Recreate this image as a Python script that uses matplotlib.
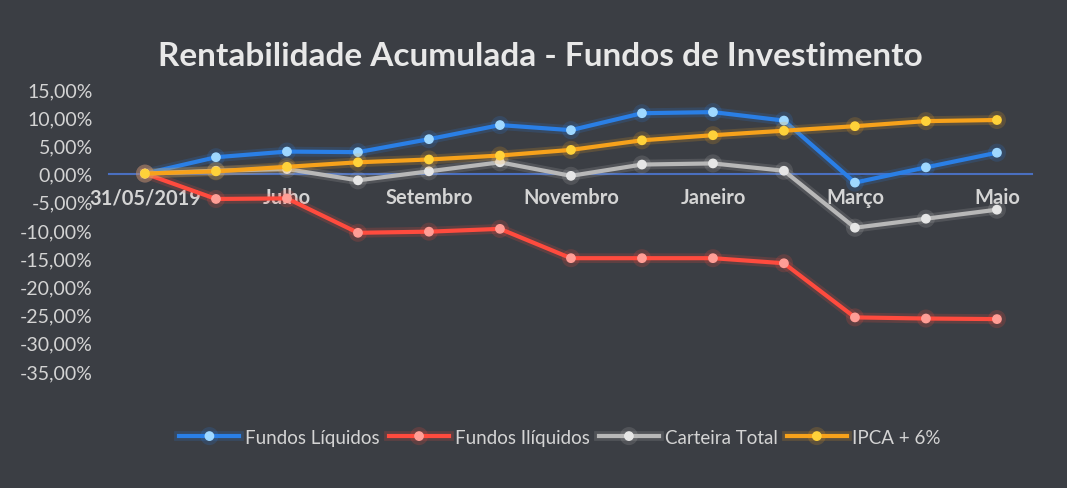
import matplotlib.pyplot as plt
import matplotlib.patheffects as pe
from matplotlib.ticker import FuncFormatter

plt.rcParams['font.family'] = ['Lato', 'DejaVu Sans']

# monthly points from 31/05/2019 to May 2020
categorias = ['31/05/2019', 'Junho', 'Julho', 'Agosto', 'Setembro', 'Outubro', 'Novembro',
              'Dezembro', 'Janeiro', 'Fevereiro', 'Março', 'Abril', 'Maio']
fundos_liquidos = [0.0, 2.9, 3.9, 3.8, 6.1, 8.6, 7.7, 10.7, 10.9, 9.4, -1.6, 1.1, 3.7]
fundos_iliquidos = [0.0, -4.5, -4.4, -10.5, -10.3, -9.8, -15.0, -15.0, -15.0, -15.9, -25.5, -25.7, -25.8]
carteira_total = [0.0, 0.5, 0.8, -1.2, 0.4, 2.0, -0.4, 1.6, 1.8, 0.5, -9.6, -8.0, -6.4]
ipca_6 = [0.0, 0.4, 1.2, 2.0, 2.5, 3.2, 4.2, 5.9, 6.8, 7.6, 8.4, 9.3, 9.5]

bg = '#3b3e44'
txt = '#d4d4d4'

fig = plt.figure(figsize=(10.67, 4.89), dpi=100, facecolor=bg)
ax = fig.add_axes([0.1026, 0.2393, 0.865, 0.5767], facecolor=bg)

series = [
    (fundos_liquidos, 'Fundos Líquidos', '#2a7fe6', '#9fd8ff'),
    (fundos_iliquidos, 'Fundos Ilíquidos', '#ff4b3e', '#ff9e96'),
    (carteira_total, 'Carteira Total', '#b8b8b8', '#e6e6e6'),
    (ipca_6, 'IPCA + 6%', '#f7a21b', '#ffd23a'),
]

x = range(len(categorias))
for vals, nome, cor, cor_m in series:
    ax.plot(x, vals, color=cor, lw=3, marker='o', ms=6, mfc=cor_m, mec=cor_m,
            label=nome, zorder=3,
            path_effects=[pe.Stroke(linewidth=7, foreground=cor, alpha=0.18), pe.Normal()])

ax.set_xlim(-0.5, 12.5)
ax.set_ylim(-35, 15)
ax.set_yticks(range(-35, 16, 5))
ax.yaxis.set_major_formatter(FuncFormatter(lambda v, p: f'{v:.2f}%'.replace('.', ',')))

ax.set_xticks(list(x)[::2])
ax.set_xticklabels(categorias[::2])

for s in ['top', 'right', 'left']:
    ax.spines[s].set_visible(False)
ax.spines['bottom'].set_position(('data', 0))
ax.spines['bottom'].set_color('#4a6fc0')
ax.spines['bottom'].set_linewidth(1.5)
ax.spines['bottom'].set_zorder(2)

ax.tick_params(axis='y', length=0, colors=txt, labelsize=14, pad=12)
ax.tick_params(axis='x', length=0, colors=txt, labelsize=14.5, pad=10)
for lbl in ax.get_xticklabels():
    lbl.set_fontweight('bold')

fig.suptitle('Rentabilidade Acumulada - Fundos de Investimento', x=0.506, y=0.915,
             color='#e8e8e8', fontsize=24, fontweight='bold')

leg = fig.legend(loc='center', bbox_to_anchor=(0.525, 0.104), ncol=4, frameon=False,
                 fontsize=13.5, handlelength=3.2, columnspacing=0.5, handletextpad=0.3)
for t in leg.get_texts():
    t.set_color(txt)

fig.savefig('out.png', dpi=100, facecolor=bg)
